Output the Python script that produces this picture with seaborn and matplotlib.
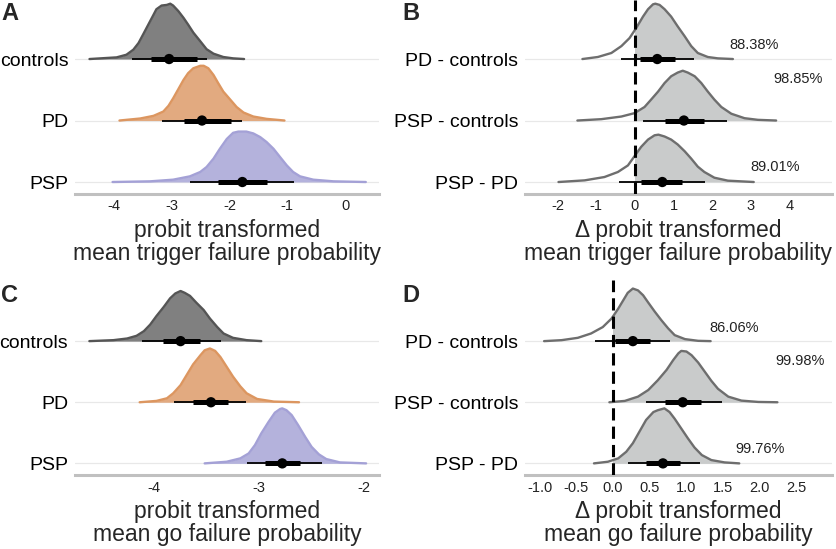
import matplotlib
matplotlib.use("Agg")
import matplotlib.pyplot as plt
from matplotlib.patches import Rectangle
import seaborn as sns
import pandas as pd

# ---------------- data ----------------
groups = ["controls", "PD", "PSP"]
contrasts = ["PD - controls", "PSP - controls", "PSP - PD"]

# Panel A: trigger failure densities (x, relative height)
A_controls_x = [-4.43, -3.96, -3.79, -3.67, -3.58, -3.50, -3.41, -3.32, -3.27, -3.18, -3.09, -3.03, -2.98, -2.89, -2.80, -2.72, -2.63, -2.51, -2.40, -2.28, -2.11, -1.94, -1.75]
A_controls_h = [0, 0.027, 0.070, 0.152, 0.26, 0.40, 0.56, 0.72, 0.81, 0.87, 0.88, 0.90, 0.87, 0.78, 0.67, 0.56, 0.43, 0.29, 0.16, 0.087, 0.033, 0.011, 0]
A_PD_x = [-3.91, -3.55, -3.32, -3.15, -3.06, -2.98, -2.89, -2.80, -2.72, -2.63, -2.51, -2.45, -2.37, -2.28, -2.20, -2.11, -1.99, -1.88, -1.76, -1.59, -1.36, -1.05]
A_PD_h = [0, 0.033, 0.076, 0.146, 0.24, 0.36, 0.51, 0.66, 0.77, 0.85, 0.89, 0.89, 0.85, 0.74, 0.61, 0.47, 0.34, 0.22, 0.13, 0.065, 0.027, 0]
A_PSP_x = [-4.03, -3.38, -2.98, -2.69, -2.51, -2.40, -2.28, -2.17, -2.05, -1.94, -1.85, -1.71, -1.59, -1.47, -1.36, -1.24, -1.13, -1.01, -0.90, -0.78, -0.55, -0.20, 0.36]
A_PSP_h = [0, 0.011, 0.038, 0.092, 0.163, 0.244, 0.38, 0.54, 0.70, 0.80, 0.82, 0.82, 0.79, 0.73, 0.65, 0.54, 0.41, 0.27, 0.163, 0.092, 0.038, 0.011, 0]
A_median = [-3.05, -2.48, -1.78]
A_q66_lo = [-3.37, -2.80, -2.20]
A_q66_hi = [-2.57, -1.98, -1.36]
A_q95_lo = [-3.70, -3.17, -2.68]
A_q95_hi = [-2.40, -1.79, -0.88]

# Panel B: trigger failure differences
B_PDc_x = [-1.36, -0.96, -0.61, -0.35, -0.14, 0.03, 0.21, 0.34, 0.47, 0.53, 0.64, 0.77, 0.94, 1.11, 1.29, 1.46, 1.63, 1.89, 2.15, 2.54]
B_PDc_h = [0, 0.033, 0.098, 0.21, 0.34, 0.50, 0.69, 0.81, 0.89, 0.90, 0.88, 0.81, 0.69, 0.53, 0.37, 0.21, 0.098, 0.033, 0.011, 0]
B_PSPc_x = [-1.49, -0.87, -0.35, -0.01, 0.25, 0.42, 0.60, 0.77, 0.94, 1.11, 1.24, 1.37, 1.55, 1.72, 1.89, 2.06, 2.24, 2.50, 2.84, 3.19, 3.66]
B_PSPc_h = [0, 0.022, 0.065, 0.12, 0.22, 0.34, 0.47, 0.61, 0.72, 0.78, 0.81, 0.78, 0.72, 0.61, 0.47, 0.34, 0.22, 0.11, 0.038, 0.011, 0]
B_PSPPD_x = [-1.98, -1.30, -0.79, -0.44, -0.18, -0.01, 0.16, 0.34, 0.51, 0.61, 0.77, 0.94, 1.11, 1.29, 1.46, 1.63, 1.80, 2.06, 2.41, 3.08]
B_PSPPD_h = [0, 0.027, 0.081, 0.163, 0.27, 0.42, 0.57, 0.69, 0.76, 0.77, 0.74, 0.69, 0.61, 0.50, 0.38, 0.25, 0.163, 0.070, 0.022, 0]
B_median = [0.58, 1.27, 0.71]
B_q66_lo = [0.14, 0.77, 0.16]
B_q66_hi = [1.04, 1.80, 1.23]
B_q95_lo = [-0.35, 0.21, -0.40]
B_q95_hi = [1.53, 2.39, 1.82]
B_pct = ["88.38%", "98.85%", "89.01%"]
B_pct_x = [3.10, 4.22, 3.64]
B_pct_dy = [0.23, 0.67, 0.24]

# Panel C: go failure densities
C_controls_x = [-4.62, -4.39, -4.26, -4.17, -4.10, -4.04, -3.98, -3.91, -3.85, -3.80, -3.75, -3.71, -3.66, -3.60, -3.53, -3.47, -3.40, -3.34, -3.25, -3.12, -2.98]
C_controls_h = [0, 0.016, 0.043, 0.087, 0.163, 0.27, 0.41, 0.56, 0.70, 0.78, 0.82, 0.79, 0.74, 0.63, 0.51, 0.37, 0.23, 0.125, 0.054, 0.016, 0]
C_PD_x = [-4.14, -3.98, -3.88, -3.82, -3.75, -3.69, -3.63, -3.56, -3.52, -3.47, -3.42, -3.37, -3.31, -3.25, -3.18, -3.12, -3.02, -2.86, -2.62]
C_PD_h = [0, 0.022, 0.065, 0.147, 0.28, 0.45, 0.62, 0.77, 0.85, 0.88, 0.84, 0.74, 0.58, 0.42, 0.26, 0.147, 0.054, 0.011, 0]
C_PSP_x = [-3.52, -3.31, -3.18, -3.10, -3.04, -2.98, -2.91, -2.85, -2.80, -2.78, -2.74, -2.69, -2.63, -2.56, -2.50, -2.43, -2.36, -2.23, -1.98]
C_PSP_h = [0, 0.027, 0.082, 0.163, 0.30, 0.49, 0.68, 0.83, 0.89, 0.90, 0.87, 0.79, 0.63, 0.43, 0.27, 0.147, 0.071, 0.016, 0]
C_median = [-3.75, -3.46, -2.78]
C_q66_lo = [-3.92, -3.63, -2.94]
C_q66_hi = [-3.56, -3.30, -2.61]
C_q95_lo = [-4.12, -3.81, -3.12]
C_q95_hi = [-3.36, -3.13, -2.40]

# Panel D: go failure differences
D_PDc_x = [-0.94, -0.70, -0.48, -0.30, -0.14, -0.02, 0.07, 0.14, 0.20, 0.27, 0.34, 0.41, 0.48, 0.57, 0.66, 0.75, 0.84, 0.98, 1.16, 1.33]
D_PDc_h = [0, 0.016, 0.054, 0.125, 0.23, 0.37, 0.53, 0.67, 0.79, 0.86, 0.83, 0.75, 0.63, 0.48, 0.34, 0.21, 0.098, 0.033, 0.005, 0]
D_PSPc_x = [-0.05, 0.16, 0.34, 0.48, 0.61, 0.73, 0.82, 0.89, 0.93, 1.00, 1.07, 1.16, 1.25, 1.34, 1.43, 1.57, 1.75, 1.98, 2.24]
D_PSPc_h = [0, 0.022, 0.092, 0.20, 0.36, 0.53, 0.69, 0.80, 0.84, 0.83, 0.77, 0.65, 0.50, 0.35, 0.22, 0.092, 0.027, 0.005, 0]
D_PSPPD_x = [-0.26, -0.07, 0.07, 0.18, 0.27, 0.36, 0.45, 0.55, 0.61, 0.70, 0.77, 0.84, 0.93, 1.02, 1.11, 1.21, 1.34, 1.52, 1.72]
D_PSPPD_h = [0, 0.027, 0.082, 0.19, 0.33, 0.52, 0.71, 0.84, 0.87, 0.90, 0.84, 0.73, 0.57, 0.41, 0.26, 0.136, 0.054, 0.016, 0]
D_median = [0.27, 0.95, 0.68]
D_q66_lo = [0.03, 0.71, 0.45]
D_q66_hi = [0.51, 1.20, 0.91]
D_q95_lo = [-0.24, 0.45, 0.21]
D_q95_hi = [0.78, 1.48, 1.18]
D_pct = ["86.06%", "99.98%", "99.76%"]
D_pct_x = [1.65, 2.55, 2.01]
D_pct_dy = [0.22, 0.67, 0.23]

# ---------------- styling ----------------
sns.set_theme(style="white")
plt.rcParams["font.family"] = ["Liberation Sans", "DejaVu Sans"]

group_fill = ["#808080", "#e2aa80", "#b4b2dc"]
group_line = ["#555555", "#dc9660", "#a4a1d6"]
diff_fill = "#c9cbcb"
diff_line = "#6e6e6e"

W, H = 837, 549
fig = plt.figure(figsize=(W / 100, H / 100), dpi=100)


def make_ax(left, right, bottom_px, top_px):
    return fig.add_axes([left / W, (H - bottom_px) / H, (right - left) / W, (bottom_px - top_px) / H])


axA = make_ax(75.3, 379.3, 193.7, 0.0)
axB = make_ax(525.3, 831.7, 193.7, 0.0)
axC = make_ax(75.0, 379.0, 475.0, 280.0)
axD = make_ax(525.3, 831.7, 475.0, 280.0)

rows = [2, 1, 0]


def density(ax, xs, hs, row, fill, line, clip_zero=False):
    base = [row] * len(xs)
    top = [row + h for h in hs]
    poly = ax.fill_between(xs, base, top, color=fill, lw=0, zorder=2)
    if clip_zero:
        rect = Rectangle((0, -10), 100, 100, transform=ax.transData)
        poly.set_clip_path(rect)
    df = pd.DataFrame({"x": xs, "y": top})
    sns.lineplot(data=df, x="x", y="y", ax=ax, color=line, lw=1.7,
                 estimator=None, sort=False, zorder=3, solid_joinstyle="round")


def intervals(ax, med, lo66, hi66, lo95, hi95):
    for i, r in enumerate(rows):
        ax.plot([lo95[i], hi95[i]], [r, r], color="black", lw=1.3, solid_capstyle="butt", zorder=4)
        ax.plot([lo66[i], hi66[i]], [r, r], color="black", lw=3.6, solid_capstyle="butt", zorder=5)
    df = pd.DataFrame({"x": med, "y": rows})
    sns.scatterplot(data=df, x="x", y="y", ax=ax, color="black", s=55, edgecolor="none", zorder=6)


def style(ax, labels, xlim, ylim, xticks, xticklabels, xlabel):
    ax.set_xlim(*xlim)
    ax.set_ylim(*ylim)
    ax.set_yticks(rows)
    ax.set_yticklabels(labels, fontsize=14, color="black")
    ax.set_xticks(xticks)
    ax.set_xticklabels(xticklabels, fontsize=10.5, color="#222222")
    ax.tick_params(axis="both", length=0)
    ax.tick_params(axis="y", pad=5)
    ax.tick_params(axis="x", pad=4)
    for s in ["left", "right", "top"]:
        ax.spines[s].set_visible(False)
    ax.spines["bottom"].set_color("#c0c0c0")
    ax.spines["bottom"].set_linewidth(2.2)
    ax.yaxis.grid(True, color="#e8e8e8", lw=0.9)
    ax.xaxis.grid(False)
    ax.set_axisbelow(True)
    ax.set_xlabel(xlabel, fontsize=16.5, labelpad=4, linespacing=1.02)
    ax.set_ylabel("")
    ax.set_facecolor("white")


# Panel A
for (xs, hs), r, f, l in zip([(A_controls_x, A_controls_h), (A_PD_x, A_PD_h), (A_PSP_x, A_PSP_h)], rows, group_fill, group_line):
    density(axA, xs, hs, r, f, l)
intervals(axA, A_median, A_q66_lo, A_q66_hi, A_q95_lo, A_q95_hi)
style(axA, groups, (-4.676, 0.594), (-0.19, 2.96), [-4, -3, -2, -1, 0],
      ["-4", "-3", "-2", "-1", "0"], "probit transformed\nmean trigger failure probability")

# Panel B
for (xs, hs), r in zip([(B_PDc_x, B_PDc_h), (B_PSPc_x, B_PSPc_h), (B_PSPPD_x, B_PSPPD_h)], rows):
    density(axB, xs, hs, r, diff_fill, diff_line, clip_zero=True)
axB.axvline(0, color="black", lw=2.2, ls=(0, (4, 2)), zorder=3.5)
intervals(axB, B_median, B_q66_lo, B_q66_hi, B_q95_lo, B_q95_hi)
for t, x, dy, r in zip(B_pct, B_pct_x, B_pct_dy, rows):
    axB.text(x, r + dy, t, ha="center", va="center", fontsize=10.5, color="#222222")
style(axB, contrasts, (-2.84, 5.1), (-0.19, 2.96), [-2, -1, 0, 1, 2, 3, 4],
      ["-2", "-1", "0", "1", "2", "3", "4"], "\u0394 probit transformed\nmean trigger failure probability")

# Panel C
for (xs, hs), r, f, l in zip([(C_controls_x, C_controls_h), (C_PD_x, C_PD_h), (C_PSP_x, C_PSP_h)], rows, group_fill, group_line):
    density(axC, xs, hs, r, f, l)
intervals(axC, C_median, C_q66_lo, C_q66_hi, C_q95_lo, C_q95_hi)
style(axC, groups, (-4.757, -1.857), (-0.19, 3.0), [-4, -3, -2],
      ["-4", "-3", "-2"], "probit transformed\nmean go failure probability")

# Panel D
for (xs, hs), r in zip([(D_PDc_x, D_PDc_h), (D_PSPc_x, D_PSPc_h), (D_PSPPD_x, D_PSPPD_h)], rows):
    density(axD, xs, hs, r, diff_fill, diff_line, clip_zero=True)
axD.axvline(0, color="black", lw=2.2, ls=(0, (4, 2)), zorder=3.5)
intervals(axD, D_median, D_q66_lo, D_q66_hi, D_q95_lo, D_q95_hi)
for t, x, dy, r in zip(D_pct, D_pct_x, D_pct_dy, rows):
    axD.text(x, r + dy, t, ha="center", va="center", fontsize=10.5, color="#222222")
style(axD, contrasts, (-1.196, 2.98), (-0.19, 3.0), [-1.0, -0.5, 0.0, 0.5, 1.0, 1.5, 2.0, 2.5],
      ["-1.0", "-0.5", "0.0", "0.5", "1.0", "1.5", "2.0", "2.5"], "\u0394 probit transformed\nmean go failure probability")

# panel letters
for letter, x, y in [("A", 1, 14), ("B", 402, 14), ("C", 1, 296), ("D", 402, 296)]:
    fig.text(x / W, 1 - y / H, letter, fontsize=17, fontweight="bold", ha="left", va="center")

fig.savefig("out.png", dpi=100)
